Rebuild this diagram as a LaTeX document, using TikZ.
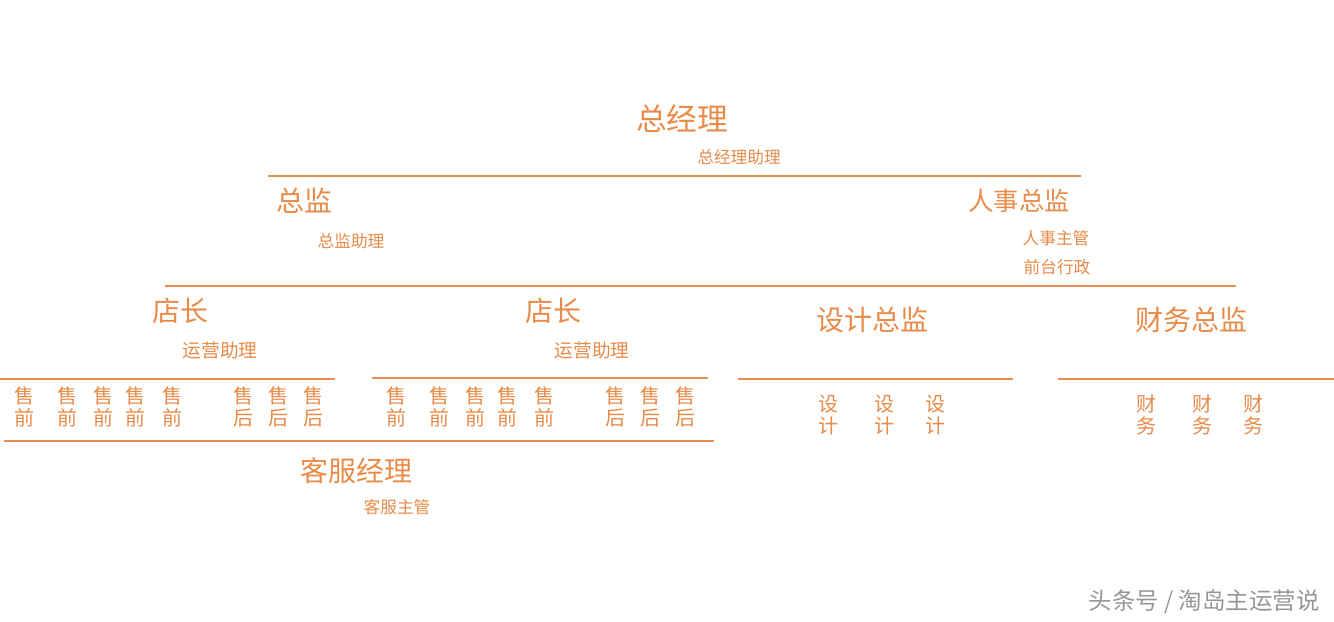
\documentclass[tikz,border=0pt]{standalone}
\usepackage{fontspec}
\setmainfont{Noto Sans CJK SC}
\usepackage{xcolor}
\usepackage{tikz}
\usetikzlibrary{positioning}
\definecolor{orgtext}{RGB}{232,138,72}
\definecolor{orgline}{RGB}{230,140,85}
\definecolor{markgray}{RGB}{150,150,150}

\tikzset{
  lead/.style={text=orgtext, inner sep=0pt, font=\fontsize{23}{26}\selectfont},
  head/.style={text=orgtext, inner sep=0pt, font=\fontsize{21}{24}\selectfont},
  aide/.style={text=orgtext, inner sep=0pt, font=\fontsize{12.5}{15}\selectfont},
  staff/.style={text=orgtext, inner sep=0pt, align=center, font=\fontsize{15}{17}\selectfont},
  rule/.style={draw=orgline, line width=0.8pt}
}

\begin{document}
\begin{tikzpicture}[x=0.75pt, y=-0.75pt]
  \useasboundingbox (0,0) rectangle (1334,621);

  % top
  \node[lead] (gm) at (682,119) {总经理};
  \node[aide] (gmaide) at (739,157) {总经理助理};
  \draw[rule] (268,176) -- (1081,176);

  % second level
  \node[head] (dir) at (304,201) {总监};
  \node[aide] (diraide) at (351,241) {总监助理};
  \node[head, font=\fontsize{19}{22}\selectfont] (hr) at (1019,201) {人事总监};
  \node[aide] (hrmgr) at (1056,238) {人事主管};
  \node[aide] (desk) at (1057,267) {前台行政};
  \draw[rule] (165,286) -- (1236,286);

  % third level
  \node[head] (shopA) at (180,311) {店长};
  \node[aide, font=\fontsize{14}{16}\selectfont] (opsA) at (220,350) {运营助理};
  \node[head] (shopB) at (553,311) {店长};
  \node[aide, font=\fontsize{14}{16}\selectfont] (opsB) at (592,350) {运营助理};
  \node[head] (design) at (872,320) {设计总监};
  \node[head] (finance) at (1191,320) {财务总监};

  \draw[rule] (0,379) -- (335,379);
  \draw[rule] (372,378) -- (708,378);
  \draw[rule] (738,379) -- (1013,379);
  \draw[rule] (1058,379) -- (1334,379);

  % staff
  \foreach \x [count=\i] in {24,67,103,135,172}
    \node[staff] (preA\i) at (\x,407) {售\\前};
  \foreach \x [count=\i] in {243,278,313}
    \node[staff] (postA\i) at (\x,407) {售\\后};
  \foreach \x [count=\i] in {396,439,475,507,544}
    \node[staff] (preB\i) at (\x,407) {售\\前};
  \foreach \x [count=\i] in {615,650,685}
    \node[staff] (postB\i) at (\x,407) {售\\后};
  \foreach \x [count=\i] in {828,884,935}
    \node[staff, font=\fontsize{15}{16}\selectfont] (des\i) at (\x,415) {设\\计};
  \foreach \x [count=\i] in {1146,1202,1253}
    \node[staff, font=\fontsize{15}{16}\selectfont] (fin\i) at (\x,415) {财\\务};

  \draw[rule] (4,441) -- (714,441);

  % service
  \node[head] (cs) at (356,471) {客服经理};
  \node[aide] (csmgr) at (397,507) {客服主管};

  \node[text=markgray, inner sep=0pt, font=\fontsize{17.6}{20}\selectfont] (mark) at (1204,602) {头条号 / 淘岛主运营说};
\end{tikzpicture}
\end{document}
